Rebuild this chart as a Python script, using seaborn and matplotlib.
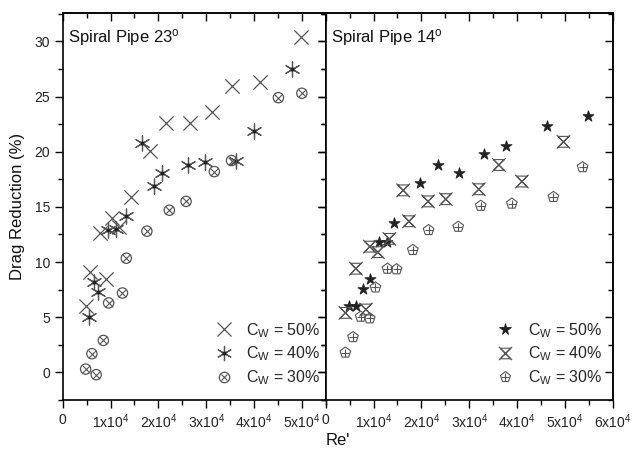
import numpy as np
import pandas as pd
import matplotlib
matplotlib.use("Agg")
import matplotlib.pyplot as plt
import seaborn as sns
from matplotlib.path import Path
from matplotlib.lines import Line2D
from matplotlib.ticker import MultipleLocator

# ---------------- data (Re' in units of 1e4) ----------------
left_c50_x = [0.48, 0.58, 0.78, 0.91, 1.03, 1.18, 1.43, 1.83, 2.15, 2.66, 3.13, 3.53, 4.13, 4.98]
left_c50_y = [6.0, 9.1, 12.6, 8.5, 14.0, 13.2, 15.9, 20.1, 22.6, 22.6, 23.6, 26.0, 26.3, 30.4]
left_c40_x = [0.56, 0.65, 0.73, 0.95, 1.11, 1.33, 1.66, 1.91, 2.08, 2.61, 2.98, 3.63, 3.99, 4.80]
left_c40_y = [5.05, 8.2, 7.3, 12.9, 13.0, 14.2, 20.8, 16.9, 18.1, 18.8, 19.1, 19.2, 21.9, 27.5]
left_c30_x = [0.48, 0.61, 0.70, 0.85, 0.96, 1.25, 1.33, 1.76, 2.23, 2.58, 3.17, 3.53, 4.51, 5.00]
left_c30_y = [0.3, 1.7, -0.2, 2.9, 6.3, 7.2, 10.35, 12.8, 14.7, 15.5, 18.2, 19.2, 24.9, 25.3]

right_c50_x = [0.49, 0.63, 0.77, 0.93, 1.11, 1.28, 1.42, 1.97, 2.35, 2.78, 3.31, 3.76, 4.62, 5.49]
right_c50_y = [6.0, 6.0, 7.6, 8.5, 11.8, 11.8, 13.5, 17.2, 18.8, 18.1, 19.8, 20.5, 22.3, 23.2]
right_c40_x = [0.41, 0.63, 0.84, 0.92, 1.09, 1.33, 1.62, 1.74, 2.14, 2.51, 3.20, 3.62, 4.10, 4.97]
right_c40_y = [5.4, 9.4, 5.7, 11.4, 10.9, 12.1, 16.5, 13.7, 15.5, 15.7, 16.6, 18.8, 17.3, 20.9]
right_c30_x = [0.41, 0.57, 0.73, 0.92, 1.04, 1.29, 1.48, 1.82, 2.15, 2.77, 3.24, 3.89, 4.76, 5.37]
right_c30_y = [1.8, 3.2, 5.05, 4.9, 7.7, 9.4, 9.35, 11.1, 12.9, 13.2, 15.1, 15.3, 15.9, 18.6]

legend_labels = [r"C$_{\rm W}$ = 50%", r"C$_{\rm W}$ = 40%", r"C$_{\rm W}$ = 30%"]
panel_titles = [r"Spiral Pipe 23$^{\rm o}$", r"Spiral Pipe 14$^{\rm o}$"]
left_xticklabels = ["0", "1x10$^{4}$", "2x10$^{4}$", "3x10$^{4}$", "4x10$^{4}$", "5x10$^{4}$"]
right_xticklabels = ["0", "1x10$^{4}$", "2x10$^{4}$", "3x10$^{4}$", "4x10$^{4}$", "5x10$^{4}$", "6x10$^{4}$"]
yticks = [0, 5, 10, 15, 20, 25, 30]

# ---------------- style ----------------
sns.set_theme(style="white")
plt.rcParams["font.family"] = ["Liberation Sans", "DejaVu Sans"]
plt.rcParams["mathtext.fontset"] = "custom"
plt.rcParams["mathtext.rm"] = "Liberation Sans"
plt.rcParams["mathtext.it"] = "Liberation Sans:italic"
plt.rcParams["mathtext.bf"] = "Liberation Sans:bold"

GREY = "#555555"
DARK = "#222222"

# hourglass + X marker
hg_verts = [(-1, 1), (1, 1), (-1, -1), (1, -1), (-1, 1),
            (-1.25, 1.25), (1.25, -1.25), (1.25, 1.25), (-1.25, -1.25)]
hg_codes = [Path.MOVETO, Path.LINETO, Path.LINETO, Path.LINETO, Path.LINETO,
            Path.MOVETO, Path.LINETO, Path.MOVETO, Path.LINETO]
HOURGLASS = Path(hg_verts, hg_codes)

fig = plt.figure(figsize=(6.32, 4.57), dpi=100)
gs = fig.add_gridspec(1, 2, left=0.0992, right=0.9695, bottom=0.1247, top=0.9722,
                      wspace=0.0, width_ratios=[5.5, 6.0])
axL = fig.add_subplot(gs[0, 0])
axR = fig.add_subplot(gs[0, 1], sharey=axL)


def layer(ax, x, y, marker, s, color, hollow=False, lw=0.8):
    df = pd.DataFrame({"Re": np.array(x) * 1e4, "DR": y})
    if hollow:
        sns.scatterplot(data=df, x="Re", y="DR", ax=ax, marker=marker, s=s,
                        facecolor="none", edgecolor=color, linewidth=lw, zorder=3)
    else:
        sns.scatterplot(data=df, x="Re", y="DR", ax=ax, marker=marker, s=s,
                        color=color, edgecolor=color, linewidth=lw, zorder=3)


# left panel
layer(axL, left_c50_x, left_c50_y, "x", 105, GREY, lw=0.9)
layer(axL, left_c40_x, left_c40_y, (6, 2, 0), 115, GREY, lw=0.9)
layer(axL, left_c40_x, left_c40_y, "o", 5, DARK)
layer(axL, left_c30_x, left_c30_y, "o", 55, GREY, hollow=True, lw=0.9)
layer(axL, left_c30_x, left_c30_y, "x", 30, GREY, lw=0.8)

# right panel
layer(axR, right_c50_x, right_c50_y, "*", 70, DARK, lw=0.6)
layer(axR, right_c40_x, right_c40_y, HOURGLASS, 95, GREY, hollow=True, lw=0.8)
layer(axR, right_c30_x, right_c30_y, "p", 65, GREY, hollow=True, lw=0.8)
layer(axR, right_c30_x, right_c30_y, "+", 35, GREY, lw=0.8)

for ax, xmax, xlabels in [(axL, 5.5e4, left_xticklabels), (axR, 6.0e4, right_xticklabels)]:
    ax.set_xlim(0, xmax)
    ax.set_ylim(-2.5, 32.6)
    ax.set_xlabel("")
    ax.set_ylabel("")
    xt = [i * 1e4 for i in range(len(xlabels))]
    ax.set_xticks(xt)
    ax.set_xticklabels(xlabels)
    ax.xaxis.set_minor_locator(MultipleLocator(5000))
    ax.set_yticks(yticks)
    ax.yaxis.set_minor_locator(MultipleLocator(2.5))
    ax.tick_params(axis="both", which="major", direction="out", length=6, width=1.0,
                   color="black", labelsize=10, pad=3, top=False, right=False,
                   bottom=True, left=True, labelcolor="#222222")
    ax.tick_params(axis="both", which="minor", direction="out", length=3.5, width=1.0,
                   color="black", top=False, right=False, bottom=True, left=True)
    for sp in ax.spines.values():
        sp.set_color("black")
        sp.set_linewidth(1.2)
    # mirrored inward ticks on top and right
    sx = ax.secondary_xaxis("top")
    sx.set_xticks(xt)
    sx.xaxis.set_minor_locator(MultipleLocator(5000))
    sx.tick_params(axis="x", which="major", direction="in", length=6, width=1.0,
                   labeltop=False, color="black")
    sx.tick_params(axis="x", which="minor", direction="in", length=3.5, width=1.0,
                   color="black")
    sx.spines["top"].set_linewidth(1.2)
    sy = ax.secondary_yaxis("right")
    sy.set_yticks(yticks)
    sy.yaxis.set_minor_locator(MultipleLocator(2.5))
    sy.tick_params(axis="y", which="major", direction="in", length=6, width=1.0,
                   labelright=False, color="black")
    sy.tick_params(axis="y", which="minor", direction="in", length=3.5, width=1.0,
                   color="black")
    sy.spines["right"].set_linewidth(1.2)

axR.tick_params(axis="y", labelleft=False)

axL.text(0.02, 0.935, panel_titles[0], transform=axL.transAxes, fontsize=12,
         va="center", ha="left", color="#111111")
axR.text(0.02, 0.935, panel_titles[1], transform=axR.transAxes, fontsize=12,
         va="center", ha="left", color="#111111")

# legends
hL = [
    Line2D([], [], ls="none", marker="x", ms=10, mec=GREY, mew=0.9),
    (Line2D([], [], ls="none", marker=(6, 2, 0), ms=11, mec=GREY, mew=0.9),
     Line2D([], [], ls="none", marker="o", ms=2, mec=DARK, mfc=DARK)),
    (Line2D([], [], ls="none", marker="o", ms=7.5, mec=GREY, mfc="none", mew=0.9),
     Line2D([], [], ls="none", marker="x", ms=5, mec=GREY, mew=0.8)),
]
hR = [
    Line2D([], [], ls="none", marker="*", ms=8.5, mec=DARK, mfc=DARK, mew=0.6),
    Line2D([], [], ls="none", marker=HOURGLASS, ms=9.5, mec=GREY, mfc="none", mew=0.8),
    (Line2D([], [], ls="none", marker="p", ms=8, mec=GREY, mfc="none", mew=0.8),
     Line2D([], [], ls="none", marker="+", ms=6, mec=GREY, mew=0.8)),
]
for ax, handles, anchor in [(axL, hL, (1.03, 0.0)), (axR, hR, (1.008, 0.0))]:
    ax.legend(handles, legend_labels, loc="lower right", bbox_to_anchor=anchor,
              frameon=False, fontsize=11.5, handlelength=1.2, handletextpad=0.8,
              labelspacing=0.32, borderaxespad=0.4)

fig.text(0.028, 0.548, "Drag Reduction (%)", rotation=90, fontsize=12,
         va="center", ha="center", color="#111111")
fig.text(0.535, 0.037, "Re'", fontsize=12, va="center", ha="center", color="#111111")

fig.savefig("out.png", dpi=100)
